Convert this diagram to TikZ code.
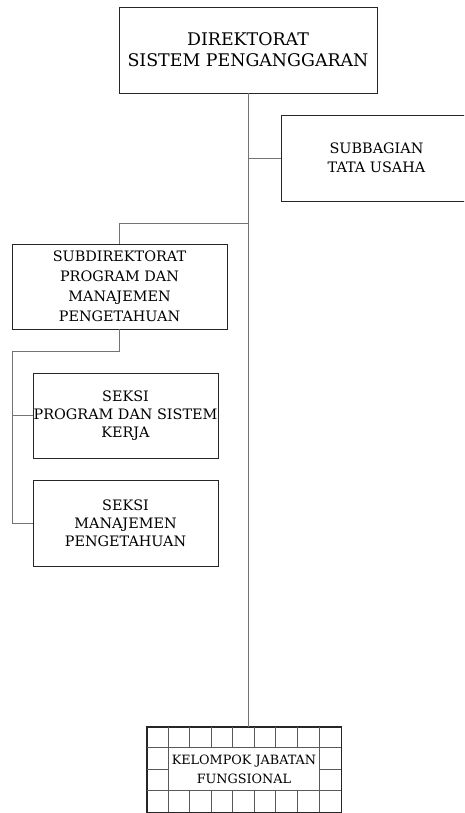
\documentclass[tikz,border=0pt]{standalone}
\usepackage{fontspec}
\setmainfont{DejaVu Serif}
\begin{document}
\begin{tikzpicture}[x=1pt,y=-1pt,
  unit/.style={draw=black!85, line width=0.9pt, align=center, inner sep=0pt},
  link/.style={draw=black!55, line width=0.9pt},
  gridline/.style={draw=black!65, line width=0.8pt}]
\clip (0,0) rectangle (464,813);

% organisational units
\node[unit, minimum width=258pt, minimum height=86pt,
      font=\fontsize{17.4}{21}\selectfont] (dir) at (248,50)
  {DIREKTORAT\\SISTEM PENGANGGARAN};
\node[unit, minimum width=191pt, minimum height=86pt,
      font=\fontsize{14.4}{19}\selectfont] (tu) at (376.5,158)
  {SUBBAGIAN\\TATA USAHA};
\node[unit, minimum width=215pt, minimum height=85pt,
      font=\fontsize{14.4}{20}\selectfont] (sub) at (119.5,286.5)
  {SUBDIREKTORAT\\PROGRAM DAN\\MANAJEMEN\\PENGETAHUAN};
\node[unit, minimum width=185pt, minimum height=85pt,
      font=\fontsize{14.4}{18}\selectfont] (s1) at (125.5,415.5)
  {SEKSI\\PROGRAM DAN SISTEM\\KERJA};
\node[unit, minimum width=185pt, minimum height=86pt,
      font=\fontsize{14.4}{18}\selectfont] (s2) at (125.5,523)
  {SEKSI\\MANAJEMEN\\PENGETAHUAN};

% functional group: a 9 x 4 grid with the middle block merged
\node[unit, minimum width=194pt, minimum height=85pt,
      font=\fontsize{12.8}{19}\selectfont] (kjf) at (244,769.5)
  {KELOMPOK JABATAN\\FUNGSIONAL};
\begin{scope}[shift={(kjf.north west)}]
  \def\cw{21.556}\def\rh{21.25}
  \draw[gridline] (0,\rh) -- (194,\rh);
  \draw[gridline] (0,3*\rh) -- (194,3*\rh);
  \draw[gridline] (0,2*\rh) -- (\cw,2*\rh);
  \draw[gridline] (8*\cw,2*\rh) -- (194,2*\rh);
  \draw[gridline] (\cw,0) -- (\cw,85);
  \draw[gridline] (8*\cw,0) -- (8*\cw,85);
  \foreach \i in {2,...,7} {
    \draw[gridline] (\i*\cw,0) -- (\i*\cw,\rh);
    \draw[gridline] (\i*\cw,3*\rh) -- (\i*\cw,85);
  }
\end{scope}
\draw[black!85, line width=0.9pt] (kjf.north west) rectangle (kjf.south east);

% junction points of the connectors
\coordinate (jsub) at (248,223);
\coordinate (jsek) at (12,351);

% connectors
\draw[link] (dir.south) -- (dir.south |- kjf.north);
\draw[link] (tu.west) -- (tu.west -| dir.south);
\draw[link] (jsub) -| (sub.north);
\draw[link] (sub.south) |- (jsek);
\draw[link] (jsek) |- (s1.west);
\draw[link] (jsek) |- (s2.west);
\end{tikzpicture}
\end{document}
